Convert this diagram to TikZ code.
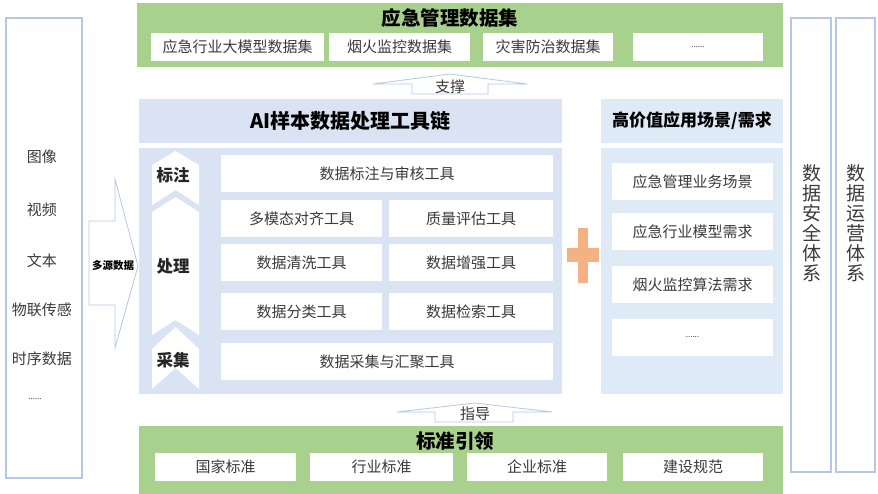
\documentclass[tikz,border=0pt]{standalone}
\usepackage{fontspec}
\setmainfont{Noto Sans CJK SC}
\usepackage{tikz}
\usetikzlibrary{%
  positioning,% wg. " of "
  shapes.misc
}

\definecolor{leadgreen}{HTML}{A9D18E}
\definecolor{chainblue}{HTML}{DAE3F3}
\definecolor{scenblue}{HTML}{DEEBF7}
\definecolor{edgeblue}{HTML}{B4C7E7}
\definecolor{plusorange}{HTML}{F4B183}
\definecolor{txtgrey}{HTML}{3A3A3A}

\begin{document}
\begin{tikzpicture}[x=1pt, y=-1pt,
    every node/.style={inner sep=0pt, outer sep=0pt},
    title/.style={font=\fontsize{19.5}{21}\selectfont\bfseries, text=black},
    toolbox/.style={fill=white, text=txtgrey, minimum height=37, font=\fontsize{15}{17}\selectfont},
    tagbox/.style={fill=white, text=txtgrey, minimum height=28, anchor=west, font=\fontsize{15}{17}\selectfont},
    sidebox/.style={draw=edgeblue, line width=1.2pt, fill=white},
    blockarrow/.style={draw=edgeblue, line width=0.8pt, fill=white, line join=miter},
    srcitem/.style={text=txtgrey, font=\fontsize{15}{17}\selectfont},
    stage/.style={font=\fontsize{16.5}{18}\selectfont\bfseries, text=black!85},
    dots/.style={text=txtgrey, font=\fontsize{8}{8}\selectfont}]
    \useasboundingbox (0,0) rectangle (878,494);

    %source data
    \node[sidebox, minimum width=76, minimum height=460, anchor=north west] (sources) at (6,18) {};
    \node[srcitem] (image) at (42,157) {图像};
    \node[srcitem] (video) at (42,210) {视频};
    \node[srcitem] (text) at (42,261) {文本};
    \node[srcitem] (iot) at (42,310) {物联传感};
    \node[srcitem] (series) at (42,359) {时序数据};
    \node[dots] (srcmore) at (35,399) {......};

    %multi source arrow
    \draw[blockarrow] (89,221) -- (115,221) -- (115,179) -- (138,266) -- (115,348) -- (115,305) -- (89,305) -- cycle;
    \node[font=\fontsize{10.5}{11}\selectfont\bfseries] (multisrc) at (113,266) {多源数据};

    %top dataset
    \node[fill=leadgreen, minimum width=646, minimum height=64, anchor=north west] (dataset) at (137,3) {};
    \node[title] (datasettitle) at (450,18) {应急管理数据集};
    \node[tagbox, minimum width=173] (llmset) at (151,47) {应急行业大模型数据集};
    \node[tagbox, minimum width=141] (fireset) at (329,47) {烟火监控数据集};
    \node[tagbox, minimum width=130] (disasterset) at (483,47) {灾害防治数据集};
    \node[tagbox, minimum width=130] (moreset) at (633,47) {};
    \node[dots] at (moreset) {......};

    %support arrow
    \draw[blockarrow] (373,84) -- (450,74) -- (527,84) -- (488,84) -- (488,94) -- (412,94) -- (412,84) -- cycle;
    \node[srcitem] (support) at (450,87) {支撑};

    %tool chain
    \node[fill=chainblue, minimum width=423, minimum height=44, anchor=north west] (chainhead) at (139,99) {};
    \node[font=\fontsize{20}{22}\selectfont\bfseries] (chaintitle) at (chainhead) {AI样本数据处理工具链};
    \node[fill=chainblue, minimum width=423, minimum height=246, anchor=north west] (chainbody) at (139,148) {};

    %stages
    \fill[white] (152,165) -- (175.5,151) -- (199,165) -- (199,205) -- (175.5,190) -- (152,205) -- cycle;
    \fill[white] (152,212) -- (175.5,197) -- (199,212) -- (199,335) -- (175.5,320) -- (152,335) -- cycle;
    \fill[white] (152,349) -- (175.5,327) -- (199,349) -- (199,389) -- (175.5,368) -- (152,389) -- cycle;
    \node[stage] (label) at (173,175) {标注};
    \node[stage] (process) at (173,266) {处理};
    \node[stage] (collect) at (173,360) {采集};

    %tools
    \node[toolbox, minimum width=332, anchor=north west] (annotool) at (221,155) {数据标注与审核工具};
    \node[toolbox, minimum width=161, anchor=north west] (aligntool) at (221,200) {多模态对齐工具};
    \node[toolbox, minimum width=164] (qualitytool) [right=7pt of aligntool] {质量评估工具};
    \node[toolbox, minimum width=161, anchor=north west] (cleantool) at (221,244) {数据清洗工具};
    \node[toolbox, minimum width=164] (augmenttool) [right=7pt of cleantool] {数据增强工具};
    \node[toolbox, minimum width=161, anchor=north west] (classtool) at (221,293) {数据分类工具};
    \node[toolbox, minimum width=164] (searchtool) [right=7pt of classtool] {数据检索工具};
    \node[toolbox, minimum width=332, anchor=north west] (collecttool) at (221,343) {数据采集与汇聚工具};

    %plus
    \fill[plusorange] (578,228) rectangle (588,283);
    \fill[plusorange] (567,248) rectangle (599,262);

    %scenarios
    \node[fill=scenblue, minimum width=182, minimum height=44, anchor=north west] (scenhead) at (601,99) {};
    \node[font=\fontsize{17}{19}\selectfont\bfseries] (scentitle) at (scenhead) {高价值应用场景/需求};
    \node[fill=scenblue, minimum width=182, minimum height=246, anchor=north west] (scenbody) at (601,148) {};
    \node[toolbox, minimum width=161, anchor=north west] (bizscene) at (612,163) {应急管理业务场景};
    \node[toolbox, minimum width=161] (modelneed) [below=13pt of bizscene] {应急行业模型需求};
    \node[toolbox, minimum width=161] (fireneed) [below=16pt of modelneed] {烟火监控算法需求};
    \node[toolbox, minimum width=161] (moreneed) [below=16pt of fireneed] {};
    \node[dots] at (moreneed) {......};

    %guide arrow
    \draw[blockarrow] (397,412) -- (475,403) -- (552,412) -- (513,412) -- (513,422) -- (435,422) -- (435,412) -- cycle;
    \node[srcitem] (guide) at (475,414) {指导};

    %standards
    \node[fill=leadgreen, minimum width=644, minimum height=68, anchor=north west] (standards) at (139,426) {};
    \node[title] (standardtitle) at (455,441) {标准引领};
    \node[tagbox, minimum width=141] (national) at (155,467) {国家标准};
    \node[tagbox, minimum width=143] (industry) at (310,467) {行业标准};
    \node[tagbox, minimum width=140] (enterprise) at (467,467) {企业标准};
    \node[tagbox, minimum width=140] (buildspec) at (623,467) {建设规范};

    %security / operation
    \node[sidebox, minimum width=40, minimum height=454, anchor=north west] (security) at (791,18) {};
    \node[sidebox, minimum width=39, minimum height=454, anchor=north west] (operation) at (836,18) {};
    \node[srcitem, font=\fontsize{19}{20}\selectfont, align=center] (securitytxt) at (812,223) {数\\据\\安\\全\\体\\系};
    \node[srcitem, font=\fontsize{19}{20}\selectfont, align=center] (operationtxt) at (856,223) {数\\据\\运\\营\\体\\系};

  \end{tikzpicture}
\end{document}
